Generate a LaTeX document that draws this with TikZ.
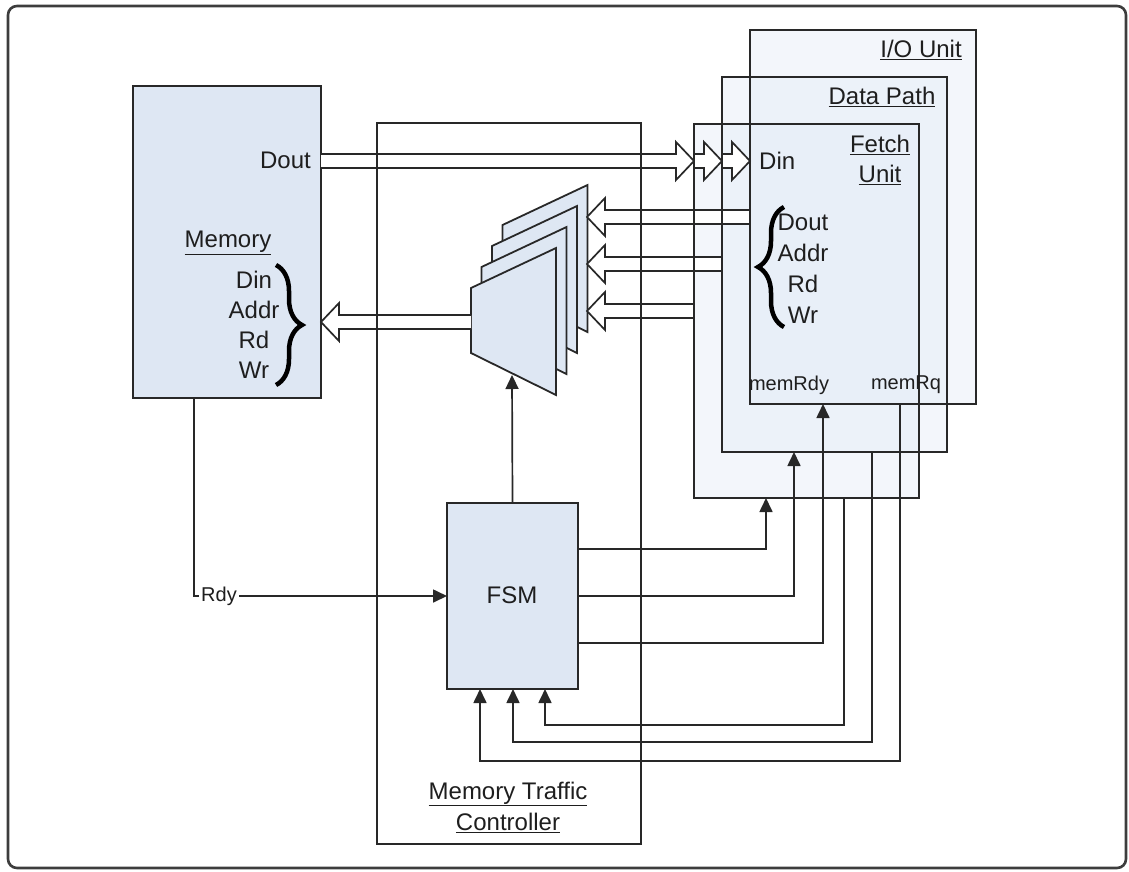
\documentclass[tikz,border=0pt]{standalone}
\usepackage{fontspec}
\setmainfont{Liberation Sans}
\usetikzlibrary{arrows.meta,decorations.pathreplacing,calc}
\definecolor{ln}{RGB}{40,40,40}
\definecolor{txt}{RGB}{30,30,30}
\definecolor{blk}{RGB}{222,231,243}
\definecolor{unitfill}{RGB}{228,236,247}
\newcommand\busarrow[3]{%
  \filldraw[bus] ([yshift=7pt]#1) -- ([yshift=7pt,xshift=#3]#2) -- ([yshift=19pt,xshift=#3]#2) -- (#2)
    -- ([yshift=-19pt,xshift=#3]#2) -- ([yshift=-7pt,xshift=#3]#2) -- ([yshift=-7pt]#1);}
\begin{document}
\begin{tikzpicture}[x=1pt,y=-1pt,
  box/.style={draw=ln, line width=1.8pt, fill=blk, inner sep=0pt, outer sep=0pt},
  unitbg/.style={fill=unitfill, fill opacity=0.45, inner sep=0pt, outer sep=0pt},
  outline/.style={draw=ln, line width=1.8pt},
  frame/.style={draw=ln, line width=1.8pt, inner sep=0pt, outer sep=0pt},
  sig/.style={draw=ln, line width=1.7pt, -{Triangle[length=14pt,width=13pt]}},
  bus/.style={draw=ln, line width=1.7pt, fill=white},
  muxl/.style={draw=ln, line width=1.8pt, fill=blk, line join=miter},
  lbl/.style={font=\fontsize{24}{30}\selectfont, text=txt, inner sep=0pt, align=center},
  lblb/.style={font=\fontsize{24}{31}\selectfont, text=txt, inner sep=0pt, align=center},
  small/.style={font=\fontsize{20}{24}\selectfont, text=txt, inner sep=0pt},
  brc/.style={draw=black, line width=4.5pt, decorate, decoration={brace, amplitude=26pt}}
]
\useasboundingbox (0,0) rectangle (1129,871);
% outer frame
\draw[draw=ln!90, line width=2.6pt, rounded corners=9pt] (8,6) rectangle (1126,868);

% blocks
\node[box, minimum width=188pt, minimum height=312pt] (mem) at (227,242) {};
\node[box, minimum width=131pt, minimum height=186pt] (fsm) at (512.5,596) {};

% unit fills
\node[unitbg, minimum width=226pt, minimum height=374pt] (ioU) at (863,217) {};
\node[unitbg, minimum width=225pt, minimum height=375pt] (dp) at (834.5,264.5) {};
\node[unitbg, minimum width=225pt, minimum height=374pt] (fu) at (806.5,311) {};

% multiplexer stack (back to front)
\foreach \k in {3,2,1,0}{
  \draw[muxl, shift={(10.5*\k,-21*\k)}] (471,288) -- (556,248) -- (556,395) -- (471,353) -- cycle;
}
\coordinate (muxb) at (512,375);
\coordinate (muxl) at (471,322);
\coordinate (muxr1) at (587,217);
\coordinate (muxr2) at (587,264);
\coordinate (muxr3) at (587,311);

% buses
\coordinate (d0) at (mem.east |- 0,161);
\coordinate (d1) at (fu.west |- 0,161);
\coordinate (d2) at (dp.west |- 0,161);
\coordinate (d3) at (ioU.west |- 0,161);
\busarrow{d0}{d1}{-18pt}
\busarrow{d1}{d2}{-18pt}
\busarrow{d2}{d3}{-18pt}
\busarrow{ioU.west |- muxr1}{muxr1}{18pt}
\busarrow{dp.west |- muxr2}{muxr2}{18pt}
\busarrow{fu.west |- muxr3}{muxr3}{18pt}
\busarrow{muxl}{mem.east |- muxl}{18pt}

% controller frame and unit outlines (on top)
\node[frame, minimum width=264pt, minimum height=721pt] (mtc) at (509,483.5) {};
\draw[outline] (ioU.south west) rectangle (ioU.north east);
\draw[outline] (dp.south west) rectangle (dp.north east);
\draw[outline] (fu.south west) rectangle (fu.north east);

% signals
\draw[sig] (fsm.north) -- (muxb);
\draw[sig] (194,0 |- mem.south) |- (fsm.west);
\draw[sig] (fsm.east |- 0,549) -| (766,0 |- fu.south);
\draw[sig] (fsm.east |- 0,596) -| (794,0 |- dp.south);
\draw[sig] (fsm.east |- 0,643) -| (823,0 |- ioU.south);
\draw[sig] (844,0 |- fu.south) |- (545,725) -- (545,0 |- fsm.south);
\draw[sig] (872,0 |- dp.south) |- (513,742) -- (513,0 |- fsm.south);
\draw[sig] (900,0 |- ioU.south) |- (480,761) -- (480,0 |- fsm.south);

% texts
\node[lbl, anchor=east] (tDout) at (311,160) {Dout};
\node[lbl] (tMem) at (228,243) {\underline{Memory}};
\node[lbl] (tMemPorts) at (254,325) {Din\\Addr\\Rd\\Wr};
\draw[brc] (276,265) -- (276,385);
\node[lbl, anchor=west] (tDin) at (759,161) {Din};
\node[lblb] (tFuPorts) at (803,268.5) {Dout\\Addr\\Rd\\Wr};
\draw[brc] (784,327) -- (784,207);
\node[lbl] (tFu) at (880,160) {\underline{Fetch}\\\underline{Unit}};
\node[lbl] (tDp) at (882,97) {\underline{Data Path}};
\node[lbl] (tIo) at (921,50) {\underline{I/O Unit}};
\node[small] (tRdyM) at (789,385) {memRdy};
\node[small] (tRq) at (906,385) {memRq};
\node[lbl] (tFsm) at (512,595) {FSM};
\node[lblb] (tMtc) at (508,807) {\underline{Memory Traffic}\\\underline{Controller}};
\node[small, fill=white, inner sep=2pt, anchor=west] (tRdy) at (199,596) {Rdy};
\end{tikzpicture}
\end{document}
